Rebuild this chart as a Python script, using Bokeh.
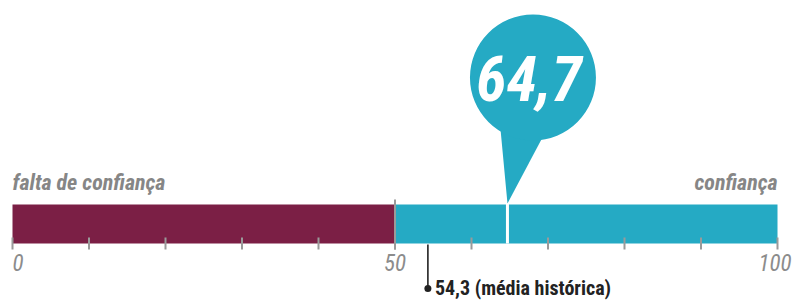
from bokeh.plotting import figure
from bokeh.models import Range1d
from bokeh.core.properties import value as V
from bokeh.embed import file_html
from bokeh.resources import INLINE

# ---- data ----
current_value = 64.7
historical_mean = 54.3
segment_starts = [0, 50]
segment_ends = [50, 100]
segment_colors = ["#7B1F45", "#25AAC4"]
tick_values = [0, 10, 20, 30, 40, 50, 60, 70, 80, 90, 100]
label_values = [0, 50, 100]
label_texts = ["0", "50", "100"]
side_labels = ["falta de confiança", "confiança"]
mean_label = "(média histórica)"

FONT = V("Roboto Condensed")
PPU = 7.65   # screen px per unit
X0 = 12      # screen x of value 0
SHIFT = 0.375  # baseline correction (em) for the svg text rendering


def base(y, size):
    return y - SHIFT * size


p = figure(width=792, height=300, output_backend="svg", toolbar_location=None,
           x_range=Range1d(-X0 / PPU, (792 - X0) / PPU), y_range=Range1d(300, 0),
           x_axis_type=None, y_axis_type=None, min_border=0)
p.grid.visible = False
p.outline_line_color = None
p.background_fill_color = "white"
p.border_fill_color = "white"

BAR_TOP, BAR_BOT = 204, 243

# bar segments
p.quad(left=segment_starts, right=segment_ends, top=BAR_TOP, bottom=BAR_BOT,
       fill_color=segment_colors, line_color=None)

# ticks
p.segment(x0=tick_values, y0=237, x1=tick_values, y1=249, line_color="#9a9a9a", line_width=2)
p.segment(x0=[50], y0=[199], x1=[50], y1=[249], line_color="#9a9a9a", line_width=2)

# tick labels
LS = 23
lab_common = dict(text_font=FONT, text_font_style="italic", text_font_size=f"{LS}px",
                  text_color="#8c8c8c", text_baseline="alphabetic")
p.text(x=[label_values[0]], y=[base(271, LS)], text=[label_texts[0]], text_align="left", **lab_common)
p.text(x=[label_values[1]], y=[base(271, LS)], text=[label_texts[1]], text_align="center", **lab_common)
p.text(x=[label_values[2]], y=[base(271, LS)], text=[label_texts[2]], text_align="right",
       x_offset=14, **lab_common)

# side labels
SS = 22
side_common = dict(text_font=FONT, text_font_style="bold italic", text_font_size=f"{SS}px",
                   text_color="#868686", text_baseline="alphabetic")
p.text(x=[segment_starts[0]], y=[base(190, SS)], text=[side_labels[0]], text_align="left", **side_common)
p.text(x=[segment_ends[-1]], y=[base(190, SS)], text=[side_labels[1]], text_align="right", **side_common)

# bubble marker
TEAL = segment_colors[1]
p.patch(x=[current_value - 7 / PPU, current_value + 35 / PPU, current_value],
        y=[128, 137, 203], fill_color=TEAL, line_color=None)
p.circle(x=[current_value + 25.5 / PPU], y=[77], radius=63, radius_units="screen",
         fill_color=TEAL, line_color=None)
VS = 62
p.text(x=[current_value + 21.5 / PPU], y=[base(101, VS)], text=[f"{current_value:.1f}".replace(".", ",")],
       text_align="center", text_baseline="alphabetic", text_font=FONT,
       text_font_style="bold italic", text_font_size=f"{VS}px", text_color="white")

# gap in bar at current value
p.segment(x0=[current_value], y0=[BAR_TOP - 1], x1=[current_value], y1=[BAR_BOT],
          line_color="white", line_width=3)

# historical mean
DOT_Y = 288
MS = 20
p.segment(x0=[historical_mean], y0=[BAR_BOT + 1], x1=[historical_mean], y1=[DOT_Y],
          line_color="#222222", line_width=1.6)
p.scatter(x=[historical_mean], y=[DOT_Y], size=7, fill_color="#222222", line_color=None)
p.text(x=[historical_mean], y=[base(295, MS)], x_offset=7,
       text=[f"{historical_mean:.1f}".replace(".", ",") + " " + mean_label],
       text_align="left", text_baseline="alphabetic", text_font=FONT,
       text_font_style="bold", text_font_size=f"{MS}px", text_color="#222222")

open("out.html", "w").write(file_html(p, INLINE))
